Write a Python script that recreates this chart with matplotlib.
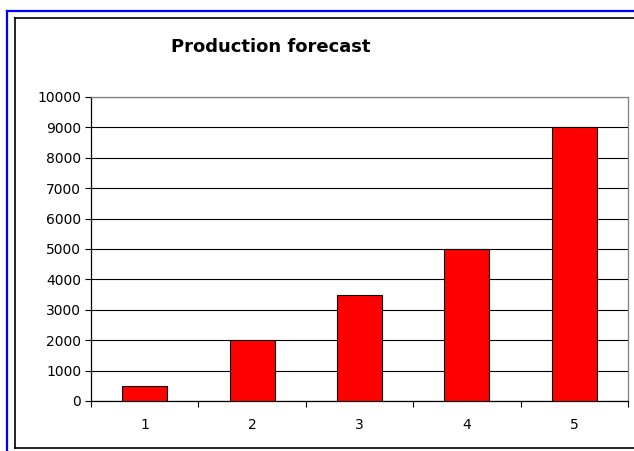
import matplotlib.pyplot as plt
from matplotlib.lines import Line2D

# Data
periods = [1, 2, 3, 4, 5]
production = [500, 2000, 3500, 5000, 9000]
y_ticks = list(range(0, 10001, 1000))

W, H = 634, 451
fig = plt.figure(figsize=(W / 100, H / 100), dpi=100)
fig.patch.set_facecolor('white')


def px(x, y):
    return x / W, 1 - y / H


# Outer blue frame (top and left) and black chart border
fig.add_artist(Line2D([7 / W, 1], [1 - 11 / H] * 2, color='#0000ff', lw=1.6))
fig.add_artist(Line2D([7 / W] * 2, [0, 1 - 11 / H], color='#0000ff', lw=1.6))
fig.add_artist(Line2D([15 / W, 1], [1 - 18 / H] * 2, color='black', lw=1.2))
fig.add_artist(Line2D([15 / W] * 2, [1 - 448 / H, 1 - 18 / H], color='black', lw=1.2))
fig.add_artist(Line2D([15 / W, 1], [1 - 448 / H] * 2, color='black', lw=1.2))

# Plot area
left, right, top, bottom = 91, 628, 97, 401
ax = fig.add_axes([left / W, 1 - bottom / H, (right - left) / W, (bottom - top) / H])

ax.bar(periods, production, width=0.42, color='#ff0000', edgecolor='black', linewidth=0.8, zorder=3)

ax.set_xlim(0.5, 5.5)
ax.set_ylim(0, 10000)
ax.set_yticks(y_ticks)
ax.set_xticks(periods)
ax.set_xticks([p + 0.5 for p in [0] + periods], minor=True)
ax.grid(axis='y', color='black', linewidth=0.8, zorder=0)

ax.tick_params(axis='x', which='major', length=0, pad=12, labelsize=10)
ax.tick_params(axis='x', which='minor', length=4, width=0.8, direction='out')
ax.tick_params(axis='y', length=4, width=0.8, direction='out', pad=3, labelsize=10)

for s in ['left', 'bottom']:
    ax.spines[s].set_color('black')
    ax.spines[s].set_linewidth(0.9)
for s in ['top', 'right']:
    ax.spines[s].set_color('#808080')
    ax.spines[s].set_linewidth(0.9)

x, y = px(271, 47)
fig.text(x, y, 'Production forecast', ha='center', va='center',
         fontsize=13, fontweight='bold')

plt.savefig('out.png', dpi=100)
